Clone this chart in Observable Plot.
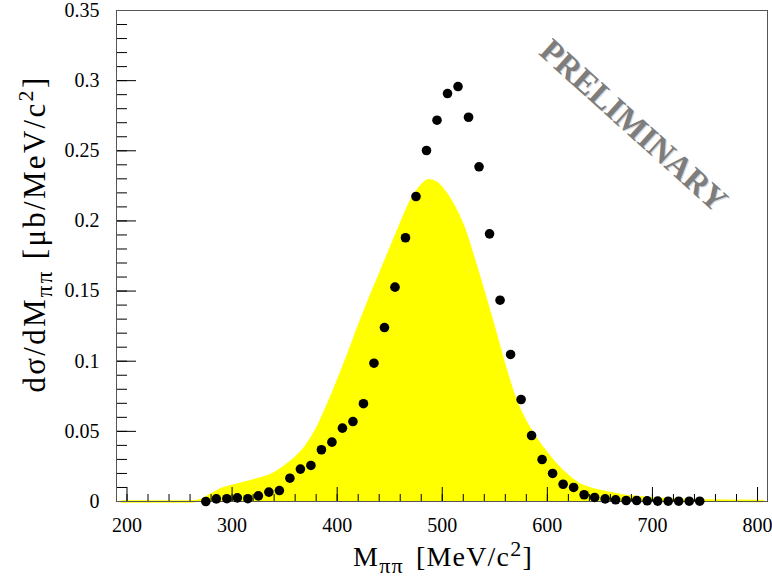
<!DOCTYPE html>
<html><head><meta charset="utf-8">
<script src="https://cdn.jsdelivr.net/npm/d3@7"></script>
<script src="https://cdn.jsdelivr.net/npm/@observablehq/plot@0.6"></script>
<style>body{margin:0;background:#fff;} #chart{width:772px;height:582px;}</style>
</head><body><div id="chart"></div>
<script>
// Measured points (MeV/c^2, ub/MeV/c^2)
const dataMass = [275,285,295,305,315,325,335,345,355,365,375,385,395,405,415,425,435,445,455,465,475,485,495,505,515,525,535,545,555,565,575,585,595,605,615,625,635,645,655,665,675,685,695,705,715,725,735,745];
const dataXsec = [0.0,0.0019,0.002,0.0026,0.002,0.004,0.0067,0.0078,0.0166,0.0231,0.0257,0.0369,0.0423,0.0523,0.057,0.0697,0.0986,0.124,0.1528,0.188,0.2174,0.2502,0.2718,0.2908,0.2958,0.2739,0.2386,0.1908,0.1435,0.1048,0.0727,0.047,0.0299,0.02,0.0123,0.01,0.0048,0.0029,0.0019,0.0012,0.0007,0.0007,0.0005,0.0003,0.0002,0.0002,0.0002,0.0002];
// Model (yellow filled) curve
const modelMass = [195,220,240,260,270,280,290,300,310,320,330,340,350,360,370,380,390,400,410,420,430,440,450,460,470,480,487,495,500,510,520,530,540,550,560,570,580,590,600,610,620,630,640,650,660,670,680,690,700,720,740,760,780,805];
const modelXsec = [0,0,0,0,0.001,0.005,0.009,0.011,0.013,0.015,0.017,0.020,0.025,0.031,0.039,0.051,0.067,0.085,0.104,0.124,0.143,0.161,0.179,0.197,0.214,0.225,0.229,0.227,0.223,0.212,0.196,0.173,0.148,0.122,0.095,0.072,0.056,0.044,0.034,0.025,0.018,0.0125,0.0095,0.0075,0.006,0.0045,0.0035,0.0028,0.0022,0.0014,0.0009,0.0007,0.0005,0.0003];
const xTickLabels = [200,300,400,500,600,700,800];
const yTickLabels = [0,0.05,0.1,0.15,0.2,0.25,0.3,0.35];
const xMinorTicks = d3.range(200, 801, 20);
const yMinorTicks = d3.range(0, 0.3501, 0.01);

const W = 772, H = 582, ML = 116, MR = 5, MT = 10, MB = 81;
const PW = W - ML - MR, PH = H - MT - MB;

const points = dataMass.map((m, i) => ({m, v: dataXsec[i]}));
const model = modelMass.map((m, i) => ({m, v: modelXsec[i]}));

const serif = "'Liberation Serif','Times New Roman',serif";

const chart = Plot.plot({
  width: W, height: H,
  marginLeft: ML, marginRight: MR, marginTop: MT, marginBottom: MB,
  style: {fontFamily: serif, background: "#fff"},
  x: {domain: [190, 809.5], label: null},
  y: {domain: [0, 0.35], label: null},
  marks: [
    Plot.areaY(model, {x: "m", y: "v", fill: "#ffff00", curve: "monotone-x"}),
    Plot.lineY(model, {x: "m", y: "v", stroke: "#ffff00", strokeWidth: 2.5, curve: "monotone-x"}),
    Plot.tickY(yTickLabels, {y: d => d, stroke: "#000", insetRight: PW - 20}),
    Plot.tickY(yMinorTicks, {y: d => d, stroke: "#000", insetRight: PW - 11}),
    Plot.tickX(xTickLabels, {x: d => d, stroke: "#000", insetTop: PH - 14}),
    Plot.tickX(xMinorTicks, {x: d => d, stroke: "#000", insetTop: PH - 7}),
    Plot.frame({stroke: "#555"}),
    Plot.axisY({ticks: yTickLabels, tickSize: 0, tickPadding: 17, fontSize: 20, label: null,
      tickFormat: d => String(+d.toFixed(2))}),
    Plot.axisX({ticks: xTickLabels, tickSize: 0, tickPadding: 16, fontSize: 20, label: null,
      tickFormat: d => String(d)}),
    Plot.dot(points, {x: "m", y: "v", r: 4.8, fill: "#000", stroke: "none"}),
    Plot.text(["PRELIMINARY"], {x: 682, y: 0.268, rotate: 42, fontSize: 33, fontWeight: "bold",
      fill: "#d8d8d8", dx: 1, dy: 1, fontFamily: serif}),
    Plot.text(["PRELIMINARY"], {x: 682, y: 0.268, rotate: 42, fontSize: 33, fontWeight: "bold",
      fill: "#7d7d7d", fontFamily: serif})
  ]
});

const svg = d3.select(chart);
// Y axis title
const yt = svg.append("text")
  .attr("transform", "translate(45,234) rotate(-90)")
  .attr("text-anchor", "middle")
  .attr("font-family", serif).attr("font-size", 31).attr("letter-spacing", 2.3).attr("fill", "#000");
yt.append("tspan").text("dσ/dM");
yt.append("tspan").attr("font-size", 23).attr("dy", 7).text("ππ");
yt.append("tspan").attr("dy", -7).text(" [μb/MeV/c");
yt.append("tspan").attr("font-size", 22).attr("dy", -12).text("2");
yt.append("tspan").attr("dy", 12).text("]");
// X axis title
const xt = svg.append("text")
  .attr("x", 443).attr("y", 566)
  .attr("text-anchor", "middle")
  .attr("font-family", serif).attr("font-size", 28).attr("letter-spacing", 1.2).attr("fill", "#000");
xt.append("tspan").text("M");
xt.append("tspan").attr("font-size", 22).attr("dy", 7).text("ππ");
xt.append("tspan").attr("dy", -7).attr("dx", 4).text(" [MeV/c");
xt.append("tspan").attr("font-size", 22).attr("dy", -10).text("2");
xt.append("tspan").attr("dy", 10).text("]");

document.getElementById("chart").appendChild(chart);
</script>
</body></html>
